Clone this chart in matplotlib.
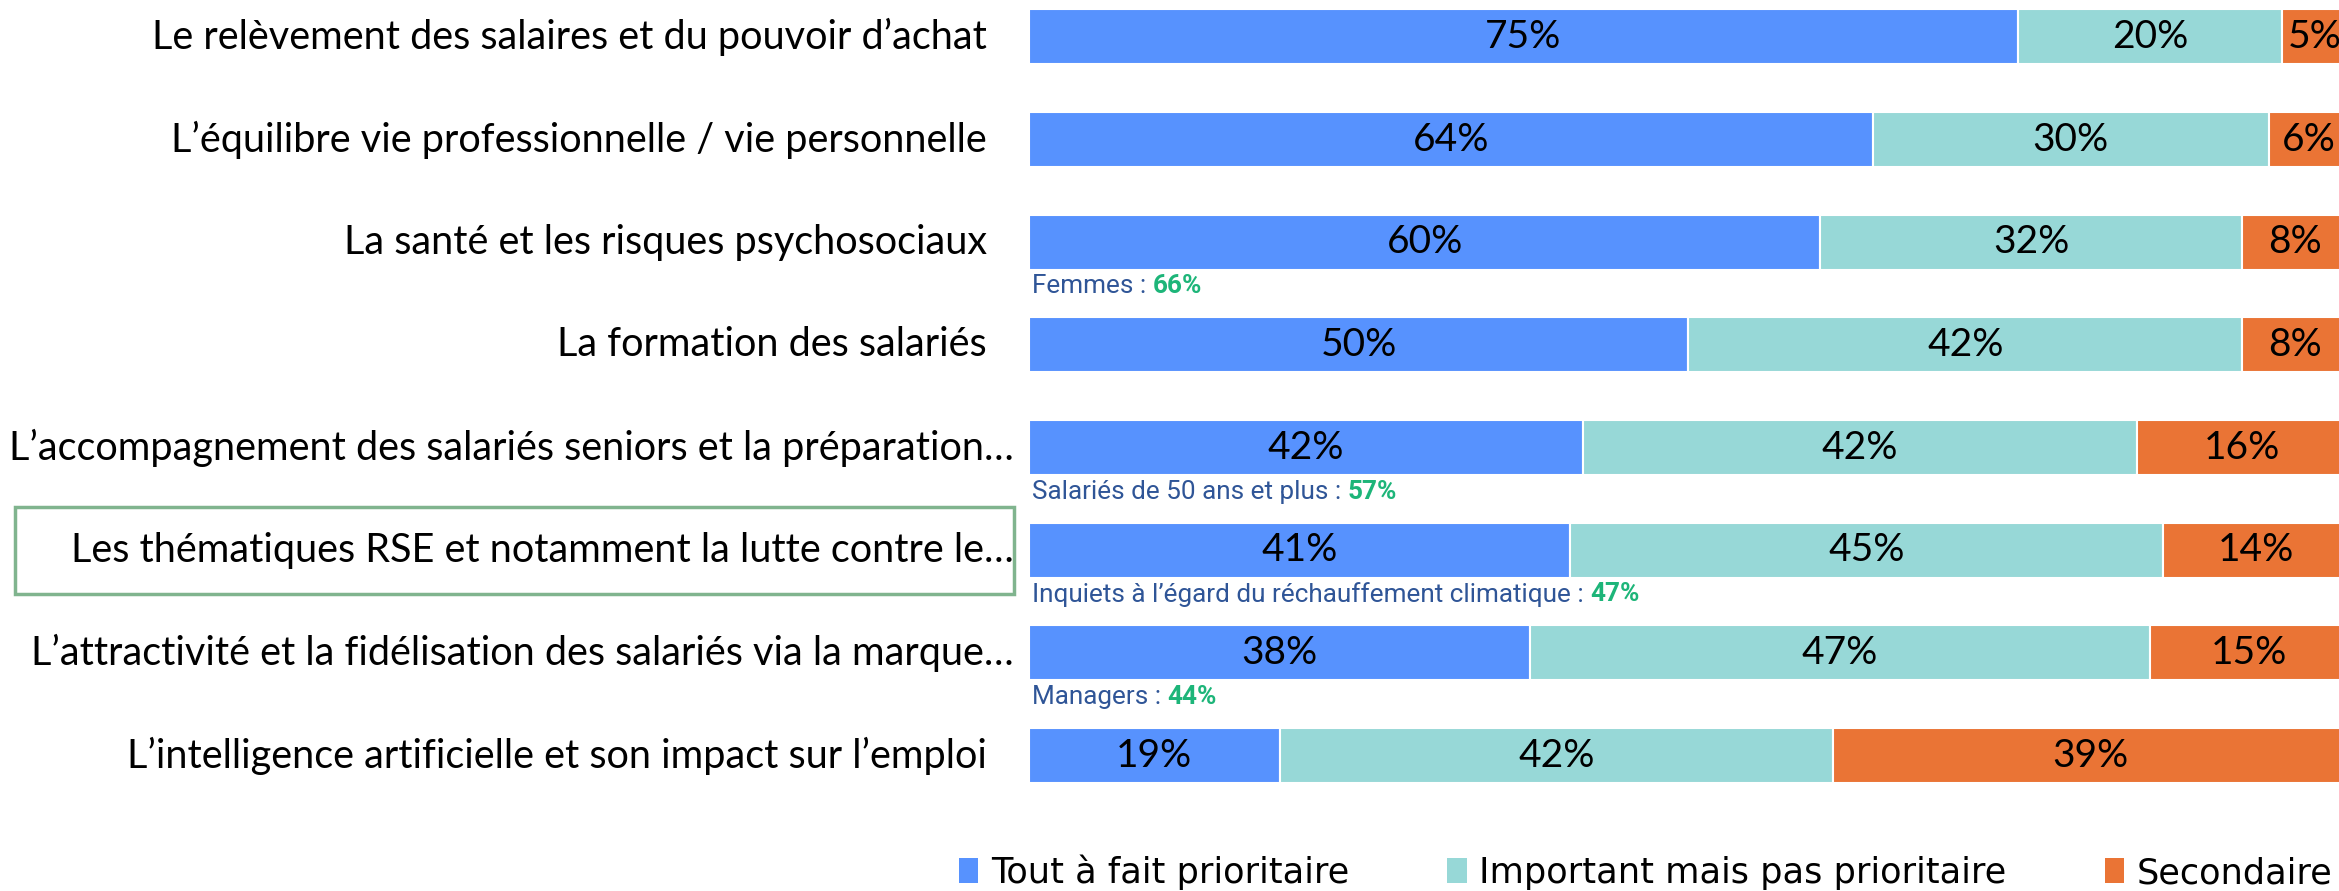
import matplotlib
matplotlib.use("Agg")
from matplotlib import pyplot as plt
from matplotlib.patches import Patch, Rectangle

categories = [
    "Le relèvement des salaires et du pouvoir d’achat",
    "L’équilibre vie professionnelle / vie personnelle",
    "La santé et les risques psychosociaux",
    "La formation des salariés",
    "L’accompagnement des salariés seniors et la préparation…",
    "Les thématiques RSE et notamment la lutte contre le…",
    "L’attractivité et la fidélisation des salariés via la marque…",
    "L’intelligence artificielle et son impact sur l’emploi",
]
tout_a_fait = [75, 64, 60, 50, 42, 41, 38, 19]
important = [20, 30, 32, 42, 42, 45, 47, 42]
secondaire = [5, 6, 8, 8, 16, 14, 15, 39]
series_names = ["Tout à fait prioritaire", "Important mais pas prioritaire", "Secondaire"]
colors = ["#5792FE", "#97D8D7", "#EA7435"]

# sous-groupes : (ligne, texte, valeur)
notes = [
    (2, "Femmes : ", "66%"),
    (4, "Salariés de 50 ans et plus : ", "57%"),
    (5, "Inquiets à l’égard du réchauffement climatique : ", "47%"),
    (6, "Managers : ", "44%"),
]

label_font = ["Lato", "DejaVu Sans"]
note_font = ["Roboto", "DejaVu Sans"]

fig = plt.figure(figsize=(23.39, 8.91), dpi=100)
ax = fig.add_axes([0.4399, 0.0943, 0.5639, 0.9047])

y = list(range(len(categories)))
left = [0] * len(categories)
for vals, col, name in zip([tout_a_fait, important, secondaire], colors, series_names):
    bars = ax.barh(y, vals, left=left, height=0.535, color=col,
                   edgecolor="white", linewidth=1.5, label=name)
    for b, v, l in zip(bars, vals, left):
        ax.text(l + v / 2, b.get_y() + b.get_height() / 2, f"{v}%",
                ha="center", va="center", fontsize=28, family=label_font, color="black")
    left = [a + b for a, b in zip(left, vals)]

ax.set_xlim(0, 100)
ax.set_ylim(7.5, -0.35)
ax.set_yticks([])
ax.set_xticks([])
for s in ax.spines.values():
    s.set_visible(False)

# libellés des lignes (les libellés tronqués débordent un peu plus à droite)
ytr = ax.get_yaxis_transform()
for i, cat in enumerate(categories):
    xr = -0.0118 if cat.endswith("…") else -0.0318
    ax.text(xr, i, cat, transform=ytr, ha="right", va="center",
            fontsize=28.5, family=label_font, color="black")

for row, txt, val in notes:
    t = ax.text(0.2, row + 0.43, txt, ha="left", va="center", fontsize=18.8,
                family=note_font, color="#2F5597")
    ax.annotate(val, xycoords=t, xy=(1, 0.5), va="center", ha="left",
                fontsize=18.8, family=note_font, color="#1DB579", fontweight="bold")

# cadre vert autour de la ligne RSE
fig.patches.append(Rectangle((15 / 2339, 1 - 594 / 891), 999 / 2339, 87 / 891,
                             transform=fig.transFigure, fill=False,
                             edgecolor="#80B48E", linewidth=2.5))

handles = [Patch(facecolor=c) for c in colors]
fig.legend(handles, series_names, loc="center right", bbox_to_anchor=(0.997, 0.021),
           ncol=3, frameon=False, prop={"family": "DejaVu Sans", "size": 25.3},
           handlelength=0.55, handleheight=0.7, handletextpad=0.35,
           columnspacing=2.8, borderpad=0, borderaxespad=0)

fig.savefig("out.png", dpi=100)
